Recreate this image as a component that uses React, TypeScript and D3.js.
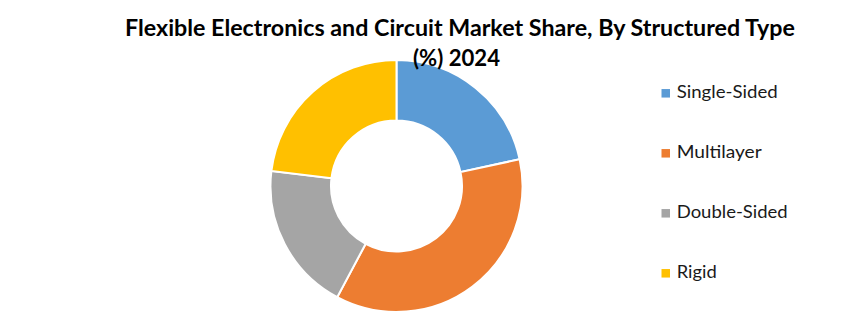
import React from "react";
import * as d3 from "d3";

const categories = ["Single-Sided", "Multilayer", "Double-Sided", "Rigid"];
const values = [21.6, 36.2, 19.1, 23.1];
const colors = ["#5B9BD5", "#ED7D31", "#A5A5A5", "#FFC000"];
const titleLines = ["Flexible Electronics and Circuit Market Share, By Structured Type", "(%) 2024"];

const W = 866;
const H = 322;

export default function App() {
  const cx = 396.5;
  const cy = 186;
  const outerR = 126;
  const innerR = 65.5;
  const pie = d3.pie<number>().sort(null).value((d) => d)(values);
  const arc = d3.arc<d3.PieArcDatum<number>>().innerRadius(innerR).outerRadius(outerR);
  const legendWidths = [101, 85, 111, 40];
  const legendY = d3.scalePoint<string>().domain(categories).range([93.3, 273.3]);

  return (
    <svg
      width={W}
      height={H}
      style={{ position: "fixed", left: 0, top: 0, background: "#fff" }}
      fontFamily="Lato, 'Open Sans', sans-serif"
    >
      <rect width={W} height={H} fill="#fff" />
      <g transform={`translate(${cx},${cy})`}>
        {pie.map((p, i) => (
          <path key={i} d={arc(p) || ""} fill={colors[i]} stroke="#fff" strokeWidth={2} />
        ))}
      </g>
      <text x={460} y={36} textAnchor="middle" fontSize={22} fontWeight="bold" fill="#000" textLength={670} lengthAdjust="spacingAndGlyphs">
        {titleLines[0]}
      </text>
      <text x={456.5} y={66} textAnchor="middle" fontSize={22} fontWeight="bold" fill="#000" textLength={87} lengthAdjust="spacingAndGlyphs">
        {titleLines[1]}
      </text>
      {categories.map((c, i) => {
        const y = legendY(c) as number;
        return (
          <g key={c}>
            <rect x={661.5} y={y - 4.25} width={8.5} height={8.5} fill={colors[i]} />
            <text x={676.7} y={y + 5} fontSize={16.7} fill="#1a1a1a" textLength={legendWidths[i]} lengthAdjust="spacingAndGlyphs">
              {c}
            </text>
          </g>
        );
      })}
    </svg>
  );
}
